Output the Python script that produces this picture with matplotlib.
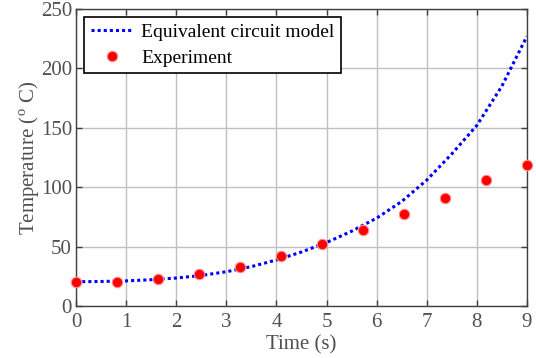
import matplotlib
matplotlib.use("Agg")
import matplotlib.pyplot as plt

plt.rcParams['font.family'] = ['Liberation Serif', 'DejaVu Serif']
plt.rcParams['mathtext.fontset'] = 'custom'
plt.rcParams['mathtext.rm'] = 'Liberation Serif'

# model curve (read at 0.5 s steps)
t_model = [0, 0.5, 1, 1.5, 2, 2.5, 3, 3.5, 4, 4.5, 5, 5.5, 6, 6.5, 7, 7.5, 8, 8.5, 9]
T_model = [20.5, 20.7, 21.2, 22.2, 23.6, 25.8, 28.9, 33.2, 38.8, 45.5, 53.5, 63,
           74, 88, 106, 128, 152, 185, 227]

# measured points
t_exp = [0, 0.82, 1.64, 2.45, 3.27, 4.09, 4.91, 5.73, 6.55, 7.36, 8.18, 9.0]
T_exp = [20.5, 20.5, 22.4, 27.2, 33.1, 42.1, 52, 64, 77.3, 91.3, 105.9, 118.5]

axis_col = '#404040'
text_col = '#505050'

fig = plt.figure(figsize=(5.36, 3.58), dpi=100)
ax = fig.add_axes([0.142, 0.145, 0.841, 0.830])

ax.plot(t_model, T_model, color='blue', linestyle=(0, (1, 1)), linewidth=2.2,
        label='Equivalent circuit model')
ax.plot(t_exp, T_exp, linestyle='none', marker='o', markersize=7.5,
        markerfacecolor='red', markeredgecolor='#ff9090', markeredgewidth=0.8,
        label='Experiment', clip_on=False, zorder=5)

ax.set_xlim(0, 9)
ax.set_ylim(0, 250)
ax.set_xticks(range(0, 10))
ax.set_yticks(range(0, 251, 50))
ax.grid(True, color='#c0c0c0', linewidth=1.0)
ax.set_axisbelow(True)

for s in ax.spines.values():
    s.set_color(axis_col)
    s.set_linewidth(1.0)
ax.tick_params(direction='in', top=True, right=True, length=4, width=1,
               color=axis_col, labelcolor=text_col, labelsize=15)
ax.tick_params(axis='x', pad=5)
ax.tick_params(axis='y', pad=3)

ax.set_xlabel('Time (s)', fontsize=15, color=text_col, labelpad=2)
ax.set_ylabel(r'Temperature ($^{\rm o}$ C)', fontsize=15, color=text_col, labelpad=-1)

leg = ax.legend(loc='upper left', fontsize=14, frameon=True, fancybox=False,
                edgecolor='black', framealpha=1, borderpad=0.35, labelspacing=0.4,
                handlelength=2.2, handletextpad=0.4, borderaxespad=0.4)
leg.get_frame().set_linewidth(1.2)

fig.savefig('out.png', dpi=100)
